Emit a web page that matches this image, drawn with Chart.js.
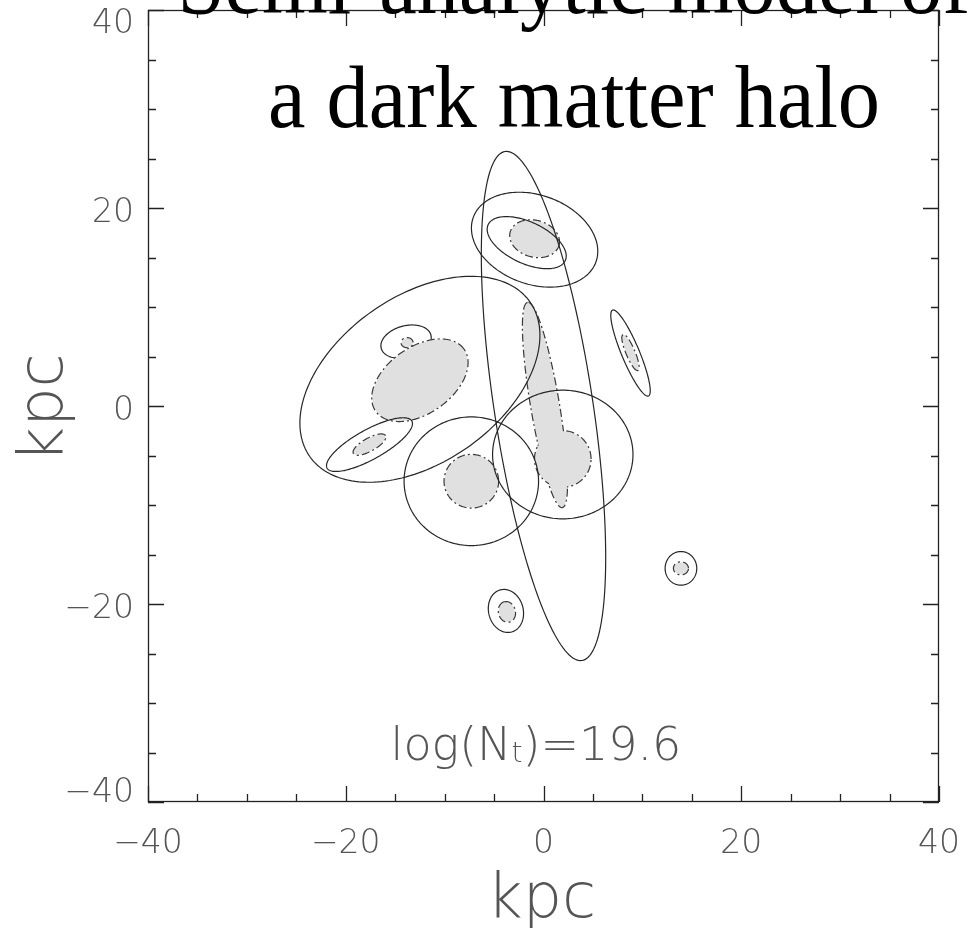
<!DOCTYPE html>
<html>
<head>
<meta charset="utf-8">
<title>Semi-analytic model of a dark matter halo</title>
<script src="https://cdn.jsdelivr.net/npm/chart.js@4.4.1/dist/chart.umd.min.js"></script>
<style>
  html, body { margin: 0; padding: 0; background: #fff; }
  canvas { display: block; }
</style>
</head>
<body>
<canvas id="halo" width="971" height="928"></canvas>
<script>
// --- Datos (kpc) ---
const tickValues = [-40, -20, 0, 20, 40];
const minorStep = 5;
const titleLines = ['Semi-analytic model of', 'a dark matter halo'];
const axisTitle = 'kpc';
const labelText = ['log(N', 't', ')=19.6'];

// contornos sólidos: centro, semiejes, ángulo (grados desde +x)
const solidCx  = [0.0, -0.9, -1.7, -12.5, 1.95, -7.3, -17.6, 8.8, -3.8, 13.9];
const solidCy  = [0.0, 16.8, 16.5, 2.7, -4.9, -7.6, -3.9, 5.35, -20.7, -16.4];
const solidA   = [26.0, 6.6, 4.3, 13.6, 7.1, 6.8, 4.9, 4.7, 2.2, 1.7];
const solidB   = [5.0, 4.5, 2.1, 8.4, 6.5, 6.5, 1.5, 0.9, 1.75, 1.6];
const solidAng = [98.6, -20, -25, 35, 0, 0, 29, 112.7, 105, 90];

// contorno sólido parcialmente tapado por la zona sombreada
const underCx = [-13.9], underCy = [6.5], underA = [2.6], underB = [1.6], underAng = [15];

// zonas sombreadas (borde punto-raya)
const shadeCx  = [-12.5, -13.8, -0.9, 0.15, 1.95, -7.3, -17.6, 8.8, -3.7, 13.9];
const shadeCy  = [2.6, 6.4, 16.9, 0.1, -5.35, -7.6, -3.9, 5.4, -20.8, -16.4];
const shadeA   = [5.4, 0.55, 2.5, 10.45, 2.8, 2.7, 1.8, 1.9, 1.0, 0.7];
const shadeB   = [3.3, 0.45, 1.8, 1.4, 2.8, 2.65, 0.6, 0.4, 0.8, 0.6];
const shadeAng = [35, 0, -15, 99.6, 0, 0, 29, 112.7, 105, 0];

// --- Estilo ---
const LINE = '#262626';
const FILL = '#e0e0e0';
const GREY_TEXT = '#555';
const THIN_FONT = '"DejaVu Sans", sans-serif';

function ellipsePath(ctx, xs, ys, cx, cy, a, b, ang){
  const px = xs.getPixelForValue(cx), py = ys.getPixelForValue(cy);
  const kx = Math.abs(xs.getPixelForValue(1) - xs.getPixelForValue(0));
  const ky = Math.abs(ys.getPixelForValue(1) - ys.getPixelForValue(0));
  const t = ang * Math.PI / 180;
  const ux = a * Math.cos(t) * kx, uy = -a * Math.sin(t) * ky;
  const vx = -b * Math.sin(t) * kx, vy = -b * Math.cos(t) * ky;
  ctx.beginPath();
  for (let i = 0; i <= 180; i++){
    const s = i / 180 * Math.PI * 2;
    const X = px + ux * Math.cos(s) + vx * Math.sin(s);
    const Y = py + uy * Math.cos(s) + vy * Math.sin(s);
    if (i === 0) ctx.moveTo(X, Y); else ctx.lineTo(X, Y);
  }
  ctx.closePath();
}

const haloPlugin = {
  id: 'halo',
  afterDatasetsDraw(chart){
    const { ctx, chartArea: ca } = chart;
    const xs = chart.scales.x, ys = chart.scales.y;
    ctx.save();
    ctx.beginPath(); ctx.rect(ca.left, ca.top, ca.right - ca.left, ca.bottom - ca.top); ctx.clip();

    // contorno bajo la sombra
    ctx.strokeStyle = LINE; ctx.lineWidth = 1.2; ctx.setLineDash([]);
    underCx.forEach((_, i) => { ellipsePath(ctx, xs, ys, underCx[i], underCy[i], underA[i], underB[i], underAng[i]); ctx.stroke(); });

    // borde punto-raya (grueso, la mitad interior queda tapada por el relleno)
    ctx.strokeStyle = '#3a3a3a'; ctx.lineWidth = 2.4; ctx.setLineDash([8, 3, 2, 3]);
    shadeCx.forEach((_, i) => { ellipsePath(ctx, xs, ys, shadeCx[i], shadeCy[i], shadeA[i], shadeB[i], shadeAng[i]); ctx.stroke(); });
    ctx.setLineDash([]);
    ctx.fillStyle = FILL;
    shadeCx.forEach((_, i) => { ellipsePath(ctx, xs, ys, shadeCx[i], shadeCy[i], shadeA[i], shadeB[i], shadeAng[i]); ctx.fill(); });

    // contornos sólidos
    ctx.strokeStyle = LINE; ctx.lineWidth = 1.2;
    solidCx.forEach((_, i) => { ellipsePath(ctx, xs, ys, solidCx[i], solidCy[i], solidA[i], solidB[i], solidAng[i]); ctx.stroke(); });
    ctx.restore();

    // marco y marcas hacia dentro
    ctx.save();
    ctx.strokeStyle = '#222'; ctx.lineWidth = 1.3;
    ctx.strokeRect(ca.left + 0.5, ca.top + 0.5, ca.right - ca.left - 1, ca.bottom - ca.top - 1);
    ctx.beginPath();
    for (let v = tickValues[0]; v <= tickValues[tickValues.length - 1]; v += minorStep){
      const len = tickValues.includes(v) ? 16 : 8;
      const x = Math.round(xs.getPixelForValue(v)) + 0.5;
      const y = Math.round(ys.getPixelForValue(v)) + 0.5;
      ctx.moveTo(x, ca.bottom); ctx.lineTo(x, ca.bottom - len);
      ctx.moveTo(x, ca.top); ctx.lineTo(x, ca.top + len);
      ctx.moveTo(ca.left, y); ctx.lineTo(ca.left + len, y);
      ctx.moveTo(ca.right, y); ctx.lineTo(ca.right - len, y);
    }
    ctx.stroke();

    // etiquetas de los ejes
    ctx.fillStyle = GREY_TEXT;
    ctx.font = '200 33px ' + THIN_FONT;
    ctx.textBaseline = 'alphabetic';
    tickValues.forEach(v => {
      const txt = v < 0 ? '\u2212' + Math.abs(v) : String(v);
      ctx.textAlign = 'center';
      ctx.fillText(txt, xs.getPixelForValue(v), 853);
      ctx.textAlign = 'right';
      const by = Math.min(802, Math.max(33, ys.getPixelForValue(v) + 14));
      ctx.fillText(txt, 134, by);
    });

    ctx.font = '200 62px ' + THIN_FONT;
    ctx.textAlign = 'center';
    ctx.fillText(axisTitle, (ca.left + ca.right) / 2 - 2, 917);
    ctx.save();
    ctx.translate(62, 408); ctx.rotate(-Math.PI / 2);
    ctx.fillText(axisTitle, 0, 0);
    ctx.restore();

    // log(N_t)=19.6
    ctx.font = '200 46px ' + THIN_FONT;
    ctx.textAlign = 'left';
    const subFont = '200 28px ' + THIN_FONT;
    const w0 = ctx.measureText(labelText[0]).width;
    const w2 = ctx.measureText(labelText[2]).width;
    ctx.font = subFont; const w1 = ctx.measureText(labelText[1]).width;
    let lx = 536 - (w0 + w1 + w2) / 2;
    ctx.font = '200 46px ' + THIN_FONT; ctx.fillText(labelText[0], lx, 760); lx += w0;
    ctx.font = subFont; ctx.fillText(labelText[1], lx, 762); lx += w1;
    ctx.font = '200 46px ' + THIN_FONT; ctx.fillText(labelText[2], lx, 760);

    // título
    ctx.fillStyle = '#000';
    ctx.font = '88px "Liberation Serif", "Times New Roman", serif';
    ctx.textAlign = 'center';
    [13, 127].forEach((base, i) => {
      ctx.save();
      ctx.translate(574, base); ctx.scale(0.96, 1);
      ctx.fillText(titleLines[i], 0, 0);
      ctx.restore();
    });
    ctx.restore();
  }
};

const centres = solidCx.map((x, i) => ({ x, y: solidCy[i] }));

new Chart(document.getElementById('halo'), {
  type: 'scatter',
  data: { datasets: [{ data: centres, pointRadius: 0, pointHoverRadius: 0 }] },
  options: {
    responsive: false,
    animation: false,
    events: [],
    layout: { padding: { top: 10, right: 32, left: 0, bottom: 0 } },
    plugins: { legend: { display: false }, tooltip: { enabled: false } },
    scales: {
      x: { type: 'linear', min: -40, max: 40, ticks: { display: false, stepSize: 20 },
           grid: { display: false }, border: { display: false },
           afterFit(s){ s.height = 126; } },
      y: { type: 'linear', min: -40, max: 40, ticks: { display: false, stepSize: 20 },
           grid: { display: false }, border: { display: false },
           afterFit(s){ s.width = 148; } }
    }
  },
  plugins: [haloPlugin]
});
</script>
</body>
</html>
